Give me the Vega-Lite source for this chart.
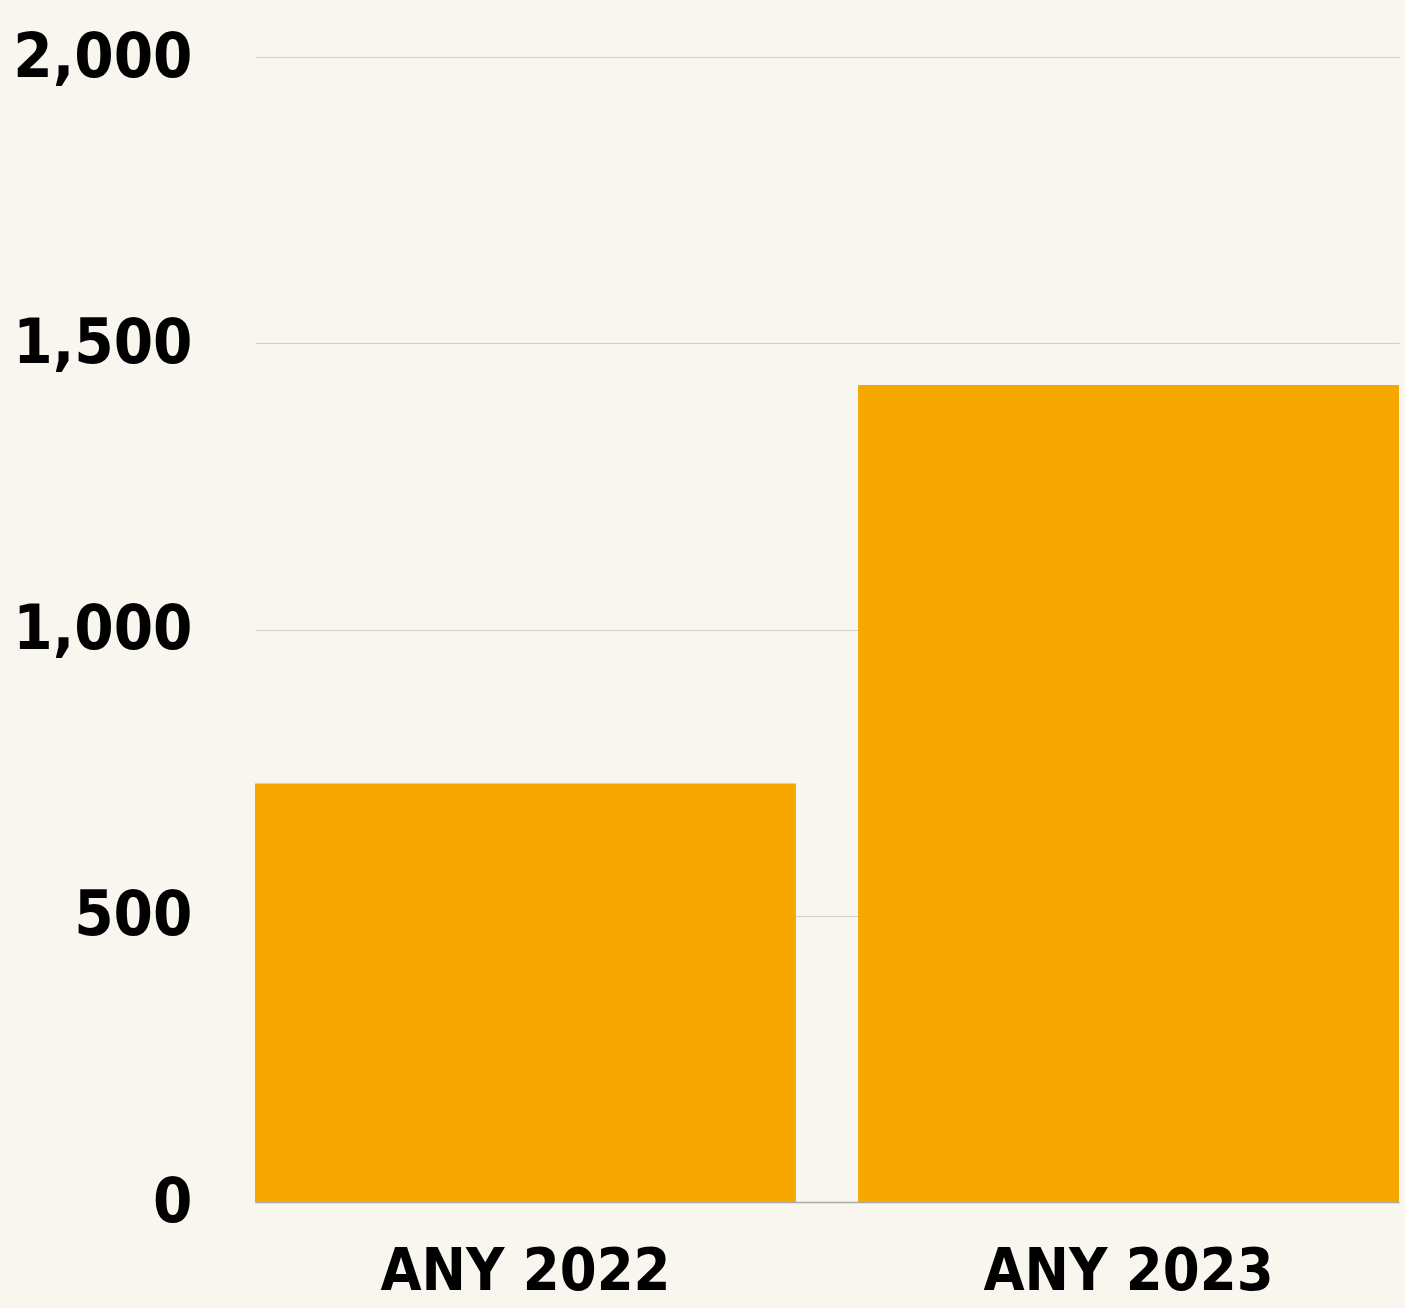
{
  "$schema": "https://vega.github.io/schema/vega-lite/v6.json",
  "autosize": "none",
  "width": 1144,
  "height": 1145,
  "padding": {"left": 255, "top": 57, "right": 6, "bottom": 106},
  "background": "#f9f5ef",
  "config": {
    "view": {"stroke": null},
    "font": "DejaVu Sans Condensed"
  },
  "data": {
    "values": [
      {"any": "ANY 2022", "valor": 731},
      {"any": "ANY 2023", "valor": 1427}
    ]
  },
  "mark": {"type": "bar", "color": "#f7a800"},
  "encoding": {
    "x": {
      "field": "any",
      "type": "nominal",
      "sort": null,
      "scale": {"paddingInner": 0.103, "paddingOuter": 0},
      "axis": {
        "title": null,
        "labelAngle": 0,
        "labelFont": "DejaVu Sans Condensed",
        "labelFontWeight": "bold",
        "labelFontSize": 59,
        "labelColor": "#000000",
        "labelPadding": 40,
        "labelLimit": 0,
        "ticks": false,
        "domain": true,
        "domainColor": "#aaaaaa",
        "domainWidth": 1.5,
        "grid": false
      }
    },
    "y": {
      "field": "valor",
      "type": "quantitative",
      "scale": {"domain": [0, 2000], "nice": false},
      "axis": {
        "title": null,
        "values": [0, 500, 1000, 1500, 2000],
        "format": ",d",
        "labelFont": "DejaVu Sans Condensed",
        "labelFontWeight": "bold",
        "labelFontSize": 63,
        "labelColor": "#000000",
        "labelPadding": 63,
        "labelLimit": 0,
        "ticks": false,
        "domain": false,
        "grid": true,
        "gridColor": "#d3cec8",
        "gridWidth": 1
      }
    }
  }
}
